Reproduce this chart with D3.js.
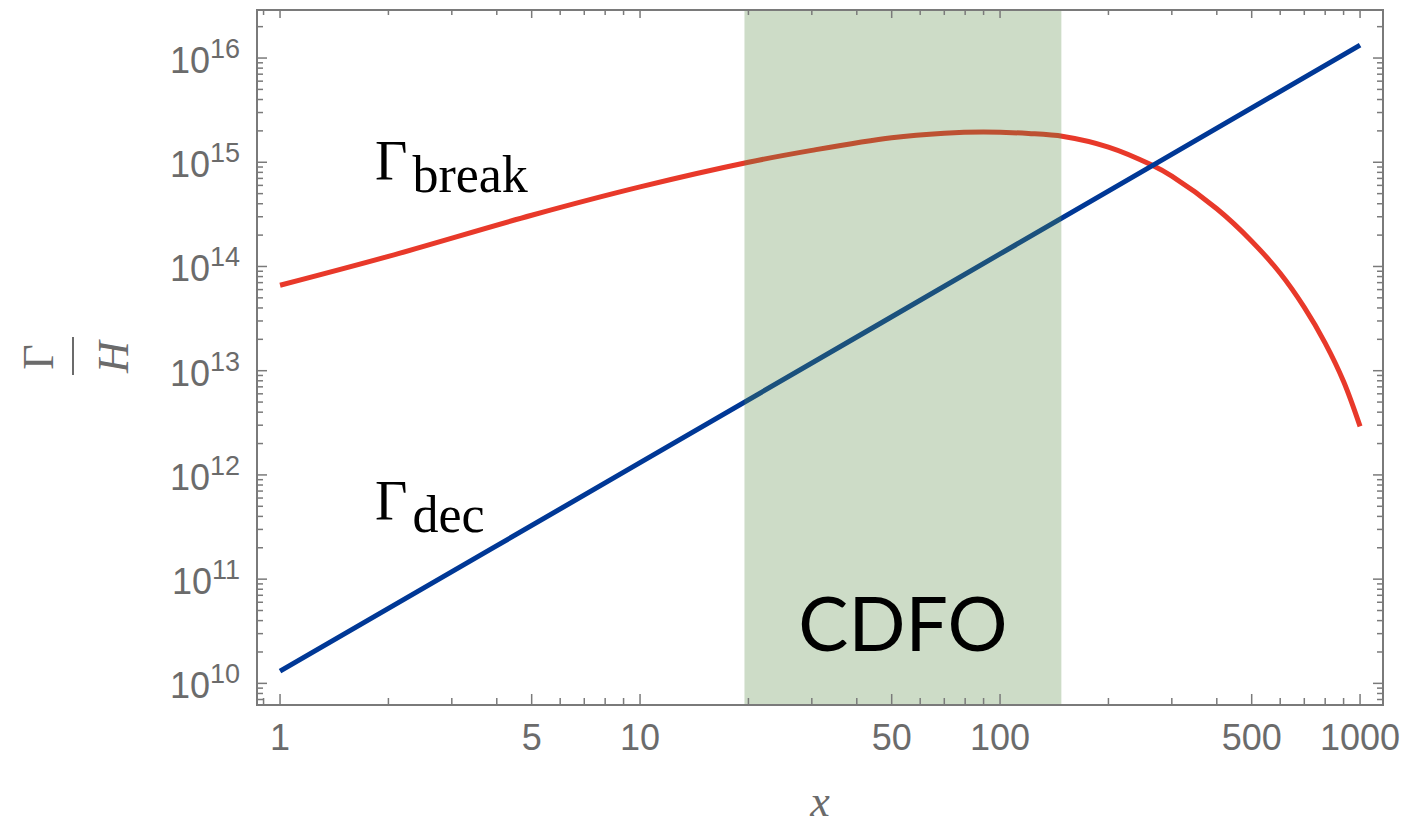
<!DOCTYPE html>
<html><head><meta charset="utf-8">
<script src="https://cdn.jsdelivr.net/npm/d3@7"></script>
<style>body{margin:0;background:#fff}</style>
</head><body>
<svg id="chart" width="1408" height="826"></svg>
<script>
// ---- data ----
const xLabels = [1, 5, 10, 50, 100, 500, 1000];
const yExponents = [10, 11, 12, 13, 14, 15, 16];
const bandRange = [19.5, 148];          // CDFO region in x
const decX = [1, 10, 100, 1000];
const decY = [1.31e10, 1.31e12, 1.32e14, 1.33e16];
const breakX = [1, 2, 5, 10, 20, 30, 50, 70, 90, 120, 150, 200, 264, 300, 400, 500, 600, 700, 800, 900, 1000];
const breakY = [6.6e13, 1.25e14, 3.1e14, 5.8e14, 1.0e15, 1.3e15, 1.72e15, 1.9e15, 1.95e15, 1.89e15, 1.77e15, 1.4e15, 9.4e14, 7.35e14, 3.58e14, 1.75e14, 8.6e13, 4.05e13, 1.84e13, 7.87e12, 2.92e12];
const xDomain = [0.863, 1158];
const yDomain = [6.2e9, 2.89e16];

const svg = d3.select("#chart");
const L = 257, R = 1383, T = 10, B = 705;
const x = d3.scaleLog().domain(xDomain).range([L, R]);
const y = d3.scaleLog().domain(yDomain).range([B, T]);
const grey = "#7a7a7a", labelGrey = "#6b6b6b";

// lines
const line = d3.line().x(d => x(d[0])).y(d => y(d[1])).curve(d3.curveCatmullRom.alpha(0.5));
svg.append("path").datum(breakX.map((v, i) => [v, breakY[i]]))
  .attr("d", line).attr("fill", "none").attr("stroke", "#e8392a").attr("stroke-width", 5);
svg.append("path").datum(decX.map((v, i) => [v, decY[i]]))
  .attr("d", line).attr("fill", "none").attr("stroke", "#003896").attr("stroke-width", 5);

// band (drawn on top, translucent)
svg.append("rect").attr("x", x(bandRange[0])).attr("width", x(bandRange[1]) - x(bandRange[0]))
  .attr("y", T).attr("height", B - T).attr("fill", "rgb(88,138,71)").attr("fill-opacity", 0.3);

svg.append("text").attr("x", (x(bandRange[0]) + x(bandRange[1])) / 2).attr("y", 651)
  .attr("text-anchor", "middle").attr("font-family", "Lato, 'Open Sans', sans-serif")
  .attr("font-size", 75).attr("fill", "#000").text("CDFO");

// frame
svg.append("rect").attr("x", L).attr("y", T).attr("width", R - L).attr("height", B - T)
  .attr("fill", "none").attr("stroke", grey).attr("stroke-width", 2);

// ticks
const xMinor = [], yMinor = [];
for (let e = -1; e <= 3; e++) for (let m = 1; m <= 9; m++) {
  const v = m * Math.pow(10, e);
  if (v >= xDomain[0] && v <= xDomain[1]) xMinor.push(v);
}
for (let e = 9; e <= 16; e++) for (let m = 1; m <= 9; m++) {
  const v = m * Math.pow(10, e);
  if (v >= yDomain[0] && v <= yDomain[1]) yMinor.push(v);
}
const tg = svg.append("g").attr("stroke", grey).attr("stroke-width", 1.5);
xMinor.forEach(v => {
  const major = xLabels.includes(v);
  const len = major ? 11 : 7;
  const px = x(v);
  tg.append("line").attr("x1", px).attr("x2", px).attr("y1", B).attr("y2", B - len);
  tg.append("line").attr("x1", px).attr("x2", px).attr("y1", T).attr("y2", T + (major ? 8 : 5));
});
yMinor.forEach(v => {
  const lg = Math.log10(v);
  const major = Math.abs(lg - Math.round(lg)) < 1e-9;
  const len = major ? 10 : 6;
  const py = y(v);
  tg.append("line").attr("x1", L).attr("x2", L + len).attr("y1", py).attr("y2", py);
  tg.append("line").attr("x1", R).attr("x2", R - len).attr("y1", py).attr("y2", py);
});

// tick labels
const lf = "'Liberation Sans', Arial, Helvetica, sans-serif";
xLabels.forEach(v => {
  svg.append("text").attr("x", x(v)).attr("y", 750).attr("text-anchor", "middle")
    .attr("font-family", lf).attr("font-size", 36).attr("fill", labelGrey).text(v);
});
yExponents.forEach(e => {
  const t = svg.append("text").attr("x", 240).attr("y", y(Math.pow(10, e)) + 15)
    .attr("text-anchor", "end").attr("font-family", lf).attr("fill", labelGrey).attr("font-size", 36);
  t.append("tspan").text("10");
  t.append("tspan").attr("dy", -15).attr("font-size", 27).text(e);
});

// axis titles
const sf = "'Liberation Serif', 'Times New Roman', serif";
svg.append("text").attr("x", 820).attr("y", 816).attr("text-anchor", "middle")
  .attr("font-family", sf).attr("font-style", "italic").attr("font-size", 44).attr("fill", labelGrey).text("x");
const yt = svg.append("g").attr("transform", "translate(73,357) rotate(-90)");
yt.append("text").attr("x", 0).attr("y", -20).attr("text-anchor", "middle")
  .attr("font-family", sf).attr("font-size", 44).attr("fill", labelGrey).text("Γ");
yt.append("line").attr("x1", -18).attr("x2", 20).attr("y1", 0).attr("y2", 0)
  .attr("stroke", labelGrey).attr("stroke-width", 2);
yt.append("text").attr("x", 0).attr("y", 55).attr("text-anchor", "middle")
  .attr("font-family", sf).attr("font-style", "italic").attr("font-size", 44).attr("fill", labelGrey).text("H");

// curve labels
function gLabel(px, py, sub) {
  const t = svg.append("text").attr("x", px).attr("y", py).attr("font-family", sf).attr("fill", "#000");
  t.append("tspan").attr("font-size", 56).text("Γ");
  t.append("tspan").attr("font-size", 52).attr("dx", 5).attr("dy", 12).text(sub);
}
gLabel(375, 180, "break");
gLabel(375, 520, "dec");
</script>
</body></html>
